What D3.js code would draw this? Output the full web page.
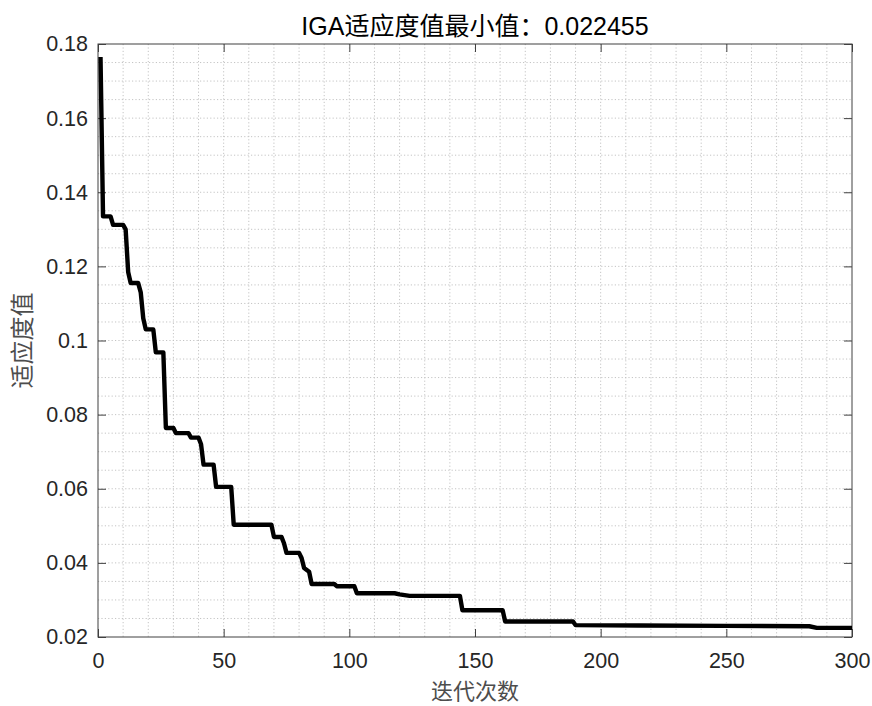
<!DOCTYPE html>
<html>
<head>
    <meta charset="utf-8">
    <title>IGA</title>
    <script src="https://d3js.org/d3.v7.min.js"></script>
    <style>
        body { margin: 0; background: #fff; }
    </style>
</head>
<body>
<script>
// Breakpoints of the best-fitness curve
const iterations = [1, 2, 5, 6, 10, 11, 12, 13, 16, 17, 18, 19, 22, 23, 26, 27, 30, 31, 36, 37, 40, 41, 42, 46, 47, 53, 54, 69, 70, 73, 74, 75, 80, 81, 82, 84, 85, 94, 95, 102, 103, 118, 120, 122, 124, 144, 145, 161, 162, 189, 190, 215, 250, 283, 286, 300];
const fitness = [0.1765, 0.1335, 0.1335, 0.1312, 0.1312, 0.1300, 0.1185, 0.1155, 0.1155, 0.1130, 0.1060, 0.1030, 0.1030, 0.0968, 0.0968, 0.0764, 0.0764, 0.0750, 0.0750, 0.0738, 0.0738, 0.0720, 0.0665, 0.0665, 0.0605, 0.0605, 0.0503, 0.0503, 0.0470, 0.0470, 0.0453, 0.0427, 0.0427, 0.0413, 0.0386, 0.0376, 0.0343, 0.0343, 0.0337, 0.0337, 0.0318, 0.0318, 0.0315, 0.0313, 0.0311, 0.0311, 0.0272, 0.0272, 0.0242, 0.0242, 0.0232, 0.0231, 0.0230, 0.0229, 0.022455, 0.022455];

const xTicks = [0, 50, 100, 150, 200, 250, 300];
const yTicks = [0.02, 0.04, 0.06, 0.08, 0.1, 0.12, 0.14, 0.16, 0.18];
const titleText = 'IGA适应度值最小值：0.022455';
const xLabel = '迭代次数';
const yLabel = '适应度值';

const W = 872, H = 706;
const margin = { top: 44, right: 20, bottom: 69, left: 98 };
const width = W - margin.left - margin.right;
const height = H - margin.top - margin.bottom;

const svg = d3.select('body')
    .append('svg')
    .attr('width', W)
    .attr('height', H);

const g = svg.append('g')
    .attr('transform', `translate(${margin.left},${margin.top})`);

const x = d3.scaleLinear().domain([0, 300]).range([0, width]);
const y = d3.scaleLinear().domain([0.02, 0.18]).range([height, 0]);

// dotted grid, every 10 iterations and every 0.005
const gridX = d3.range(10, 300, 10);
const gridY = d3.range(0.025, 0.18, 0.005);

g.append('g').selectAll('line')
    .data(gridX)
    .enter().append('line')
    .attr('x1', d => x(d)).attr('x2', d => x(d))
    .attr('y1', 0).attr('y2', height)
    .attr('stroke', '#c4c4c4')
    .attr('stroke-dasharray', '1.2,2.2');

g.append('g').selectAll('line')
    .data(gridY)
    .enter().append('line')
    .attr('x1', 0).attr('x2', width)
    .attr('y1', d => y(d)).attr('y2', d => y(d))
    .attr('stroke', '#c4c4c4')
    .attr('stroke-dasharray', '1.2,2.2');

// axes with inward ticks on all four sides
const tickFmt = d3.format('');
const axisColor = '#404040';

function styleAxis(sel) {
    sel.select('.domain').remove();
    sel.selectAll('line').attr('stroke', axisColor);
    sel.selectAll('text')
        .attr('fill', '#262626')
        .style('font-family', '"Liberation Sans", Arial, sans-serif')
        .style('font-size', '21.5px');
}

g.append('g')
    .attr('transform', `translate(0,${height})`)
    .call(d3.axisBottom(x).tickValues(xTicks).tickSizeInner(-8).tickSizeOuter(0).tickPadding(16).tickFormat(tickFmt))
    .call(styleAxis);

g.append('g')
    .call(d3.axisTop(x).tickValues(xTicks).tickSizeInner(-8).tickSizeOuter(0).tickFormat(''))
    .call(styleAxis);

g.append('g')
    .call(d3.axisLeft(y).tickValues(yTicks).tickSizeInner(-8).tickSizeOuter(0).tickPadding(10).tickFormat(d => String(+d.toFixed(2))))
    .call(styleAxis);

g.append('g')
    .attr('transform', `translate(${width},0)`)
    .call(d3.axisRight(y).tickValues(yTicks).tickSizeInner(-8).tickSizeOuter(0).tickFormat(''))
    .call(styleAxis);

g.append('rect')
    .attr('width', width)
    .attr('height', height)
    .attr('fill', 'none')
    .attr('stroke', axisColor)
    .attr('stroke-width', 1);

// the curve
const points = iterations.map((it, i) => ({ it, v: fitness[i] }));
g.append('path')
    .datum(points)
    .attr('fill', 'none')
    .attr('stroke', '#000')
    .attr('stroke-width', 4.4)
    .attr('stroke-linejoin', 'round')
    .attr('d', d3.line().x(d => x(d.it)).y(d => y(d.v)));

// title and labels
svg.append('text')
    .attr('x', margin.left + width / 2)
    .attr('y', 35)
    .attr('text-anchor', 'middle')
    .style('font-family', '"Liberation Sans", "Noto Sans CJK SC", sans-serif')
    .style('font-size', '25px')
    .attr('fill', '#000')
    .text(titleText);

svg.append('text')
    .attr('x', margin.left + width / 2)
    .attr('y', 699)
    .attr('text-anchor', 'middle')
    .style('font-family', '"Noto Sans CJK SC", sans-serif')
    .style('font-size', '22px')
    .attr('fill', '#4d4d4d')
    .text(xLabel);

svg.append('text')
    .attr('transform', `translate(31,${margin.top + height / 2}) rotate(-90)`)
    .attr('text-anchor', 'middle')
    .style('font-family', '"Noto Sans CJK SC", sans-serif')
    .style('font-size', '24px')
    .attr('fill', '#4d4d4d')
    .text(yLabel);
</script>
</body>
</html>
